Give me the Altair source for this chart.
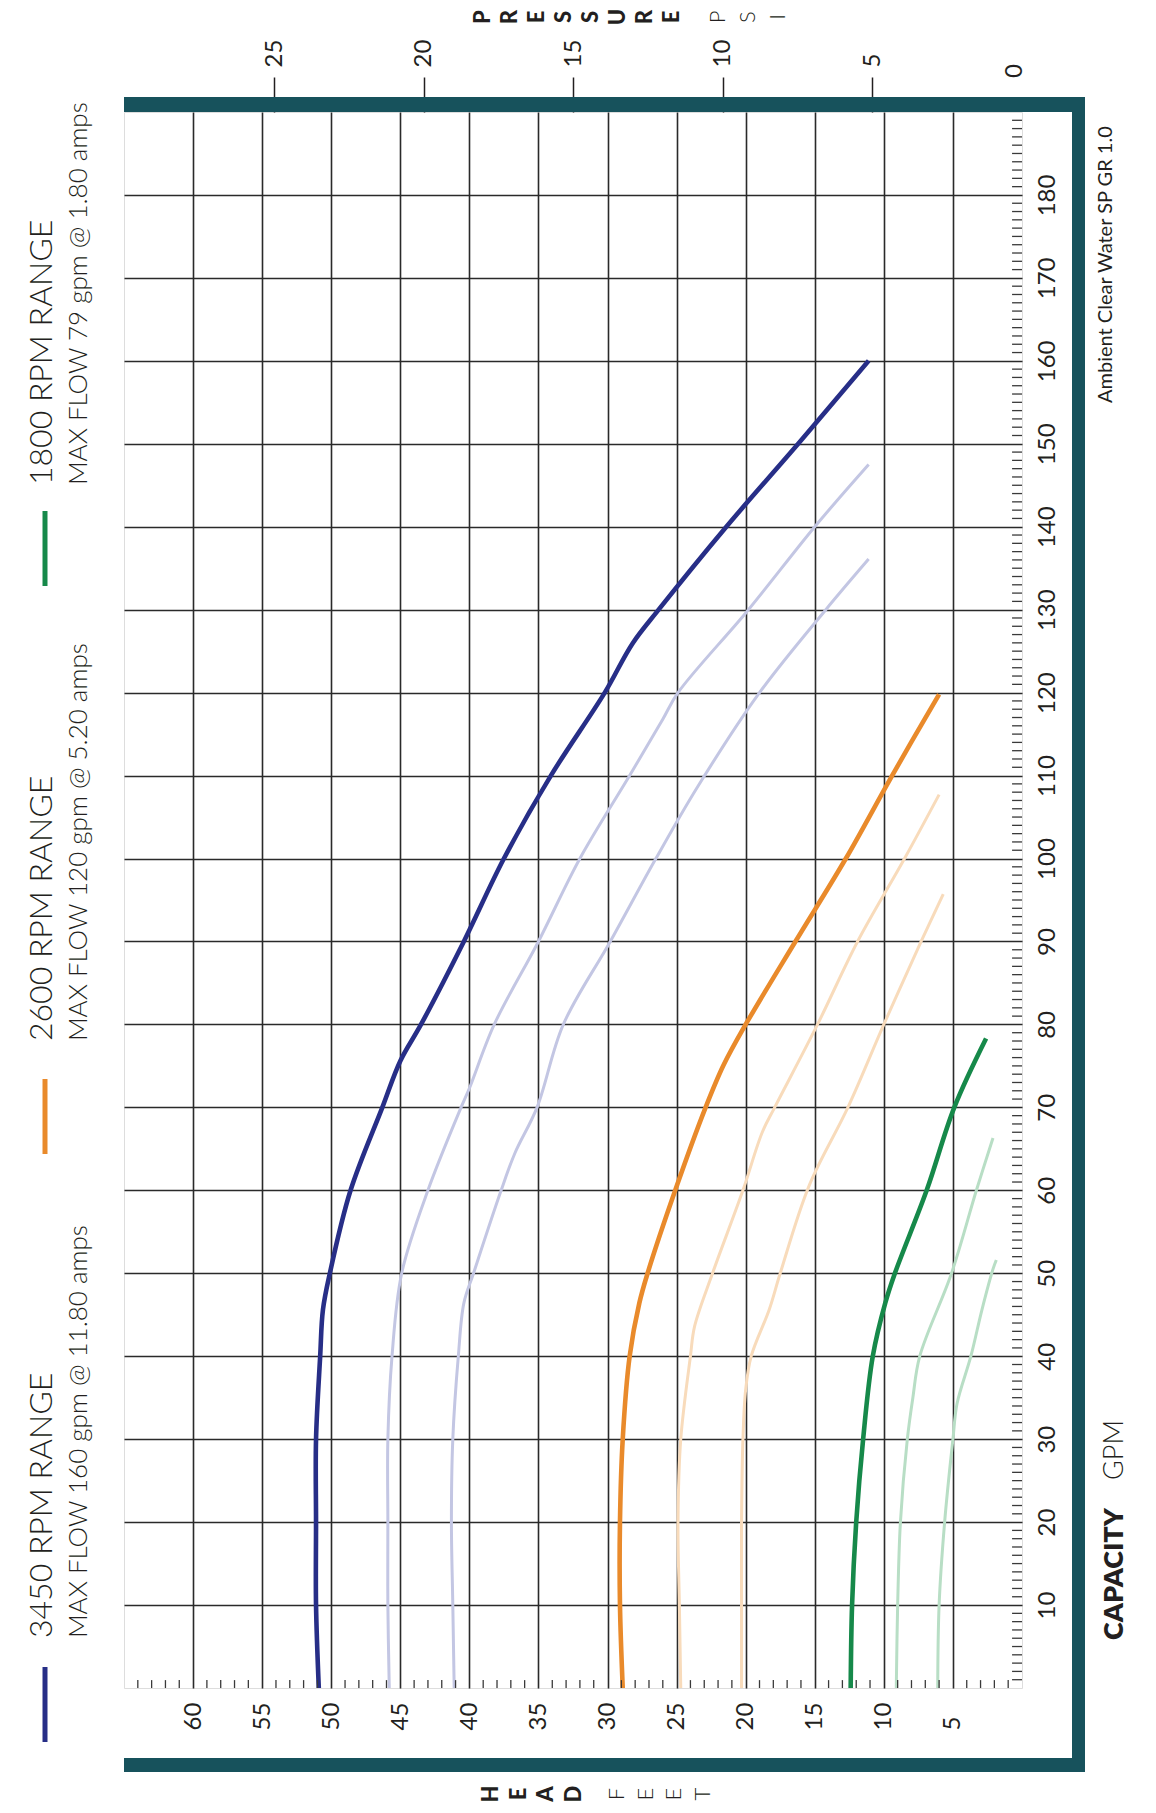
import altair as alt
import pandas as pd

# ---------------- data ----------------
# 3450 RPM family
gpm_3450 = [0, 10, 20, 30, 40, 45.6, 50, 60, 70, 75.6, 80, 90, 100, 110, 120, 125.9, 130, 140, 150, 160]
head_3450 = [50.9, 51.1, 51.1, 51.1, 50.8, 50.6, 50.1, 48.6, 46.3, 45.0, 43.5, 40.4, 37.5, 34.1, 30.2, 28.2, 26.3, 21.4, 16.2, 11.1]
gpm_3450_b = [0, 10, 20, 30, 40, 50, 60, 70, 72.3, 80, 90, 100, 110, 116.8, 120, 130, 140, 147.5]
head_3450_b = [45.8, 45.9, 45.9, 45.9, 45.6, 44.9, 43.0, 40.6, 40.0, 38.2, 35.0, 32.0, 28.4, 26.0, 24.9, 19.8, 15.0, 11.1]
gpm_3450_c = [0, 10, 20, 30, 40, 46.4, 50, 60, 64.5, 70, 80, 90, 100, 108.6, 120, 130, 136.1]
head_3450_c = [41.1, 41.2, 41.3, 41.2, 40.8, 40.4, 39.7, 37.7, 36.7, 35.1, 33.2, 29.8, 26.5, 23.5, 19.0, 14.2, 11.1]
# 2600 RPM family
gpm_2600 = [0, 10, 20, 30, 40, 46.4, 50, 60, 70, 75.1, 80, 90, 100, 110, 119.8]
head_2600 = [28.9, 29.1, 29.1, 28.9, 28.4, 27.7, 27.1, 25.1, 22.9, 21.6, 20.0, 16.4, 12.75, 9.4, 6.0]
gpm_2600_b = [0, 10, 20, 30, 40, 43.6, 50, 60, 67, 70, 80, 90, 100, 107.7]
head_2600_b = [24.7, 24.8, 24.9, 24.7, 24.0, 23.7, 22.4, 20.2, 18.8, 17.9, 14.8, 11.9, 8.5, 6.0]
gpm_2600_c = [0, 10, 20, 30, 36, 40, 45.6, 50, 60.6, 70, 80, 90, 95.7]
head_2600_c = [20.3, 20.3, 20.3, 20.2, 20.0, 19.6, 18.3, 17.5, 15.4, 12.6, 10.0, 7.3, 5.7]
# 1800 RPM family
gpm_1800 = [0, 10, 20, 30, 40, 46.4, 50, 60, 70, 78.3]
head_1800 = [12.4, 12.3, 12.0, 11.5, 10.8, 9.9, 9.2, 6.9, 4.9, 2.6]
gpm_1800_b = [0, 10, 20, 30, 35, 40, 50, 60, 66.3]
head_1800_b = [9.1, 9.0, 8.8, 8.3, 7.9, 7.4, 5.1, 3.3, 2.1]
gpm_1800_c = [0, 10, 20, 30, 34.3, 40, 45.6, 50.5, 51.6]
head_1800_c = [6.1, 6.0, 5.6, 5.0, 4.7, 3.7, 2.9, 2.1, 1.86]

head_labels = [5, 10, 15, 20, 25, 30, 35, 40, 45, 50, 55, 60]
gpm_labels = [10, 20, 30, 40, 50, 60, 70, 80, 90, 100, 110, 120, 130, 140, 150, 160, 170, 180]
psi_labels = [5, 10, 15, 20, 25]
head_minor = [h for h in range(1, 65) if h % 5 != 0]
gpm_minor = [g for g in range(1, 190) if g % 10 != 0]

legend_titles = ["3450 RPM RANGE", "2600 RPM RANGE", "1800 RPM RANGE"]
legend_subs = ["MAX FLOW 160 gpm @ 11.80 amps", "MAX FLOW 120 gpm @ 5.20 amps", "MAX FLOW 79 gpm @ 1.80 amps"]

# ---------------- styling ----------------
NAVY, NAVY_L = "#272e87", "#c3c6e3"
ORANGE, ORANGE_L = "#e98a2b", "#f8dbbb"
GREEN, GREEN_L = "#16894a", "#b8dec5"
TEAL = "#17525c"
INK = "#231f20"
GRID = "#2a2a2a"
FONT = "Lato"

W, H = 898, 1576

series = [
    ("3450b", gpm_3450_b, head_3450_b, "light"), ("3450c", gpm_3450_c, head_3450_c, "light"),
    ("2600b", gpm_2600_b, head_2600_b, "light"), ("2600c", gpm_2600_c, head_2600_c, "light"),
    ("1800b", gpm_1800_b, head_1800_b, "light"), ("1800c", gpm_1800_c, head_1800_c, "light"),
    ("3450", gpm_3450, head_3450, "main"), ("2600", gpm_2600, head_2600, "main"),
    ("1800", gpm_1800, head_1800, "main"),
]
rows = []
for name, gs, hs, kind in series:
    for g, h in zip(gs, hs):
        rows.append({"series": name, "kind": kind, "gpm": g, "head": h})
curves = pd.DataFrame(rows)

color_scale = alt.Scale(
    domain=["3450", "3450b", "3450c", "2600", "2600b", "2600c", "1800", "1800b", "1800c"],
    range=[NAVY, NAVY_L, NAVY_L, ORANGE, ORANGE_L, ORANGE_L, GREEN, GREEN_L, GREEN_L],
)

head_scale = alt.Scale(domain=[0, 65], reverse=True, nice=False, zero=False)
gpm_scale = alt.Scale(domain=[0, 190], nice=False, zero=False)
psi_scale = alt.Scale(domain=[0, 30.03], reverse=True, nice=False, zero=False)

x_axis = alt.Axis(
    orient="bottom", values=head_labels, grid=True, gridColor=GRID, gridWidth=1.6, gridOpacity=1,
    ticks=False, tickSize=0, domain=False, labelAngle=270, labelAlign="left", labelBaseline="middle",
    labelPadding=42, labelFontSize=24, labelFont=FONT, labelColor=INK, labelFlush=False,
    labelOverlap=False, title=None,
)
y_axis = alt.Axis(
    orient="right", values=gpm_labels, grid=True, gridColor=GRID, gridWidth=1.6, gridOpacity=1,
    ticks=False, tickSize=0, domain=False, labelAngle=270, labelAlign="center", labelBaseline="top",
    labelPadding=13, labelFontSize=24, labelFont=FONT, labelColor=INK, labelFlush=False,
    labelOverlap=False, title=None,
)
psi_axis = alt.Axis(
    orient="top", values=psi_labels, grid=False, ticks=True, tickSize=35, tickWidth=1.5,
    tickColor=INK, domain=False, labelAngle=270, labelAlign="left", labelBaseline="middle",
    labelPadding=10, labelFontSize=24, labelFont=FONT, labelColor=INK, labelFlush=False,
    labelOverlap=False, title=None,
)

base = alt.Chart(curves).encode(
    x=alt.X("head:Q", scale=head_scale, axis=x_axis),
    y=alt.Y("gpm:Q", scale=gpm_scale, axis=y_axis),
    color=alt.Color("series:N", scale=color_scale, legend=None),
    detail="series:N",
    order=alt.Order("gpm:Q"),
)
light_lines = base.transform_filter(alt.datum.kind == "light").mark_line(strokeWidth=3, interpolate="catmull-rom")
main_lines = base.transform_filter(alt.datum.kind == "main").mark_line(strokeWidth=4.6, interpolate="catmull-rom")

# minor ticks along the bottom (head) and right (capacity) edges
hm = pd.DataFrame({"head": head_minor, "gpm": [0] * len(head_minor), "gpm2": [0.95] * len(head_minor)})
head_ticks = alt.Chart(hm).mark_rule(color="#3a3a3a", strokeWidth=1.3).encode(
    x=alt.X("head:Q", scale=head_scale), y=alt.Y("gpm:Q", scale=gpm_scale), y2="gpm2:Q"
)
gm = pd.DataFrame({"gpm": gpm_minor, "head": [0] * len(gpm_minor), "head2": [0.72] * len(gpm_minor)})
gpm_ticks = alt.Chart(gm).mark_rule(color="#3a3a3a", strokeWidth=1.3).encode(
    y=alt.Y("gpm:Q", scale=gpm_scale), x=alt.X("head:Q", scale=head_scale), x2="head2:Q"
)

one = pd.DataFrame({"k": [0]})

def rect(x1, x2, y1, y2):
    return alt.Chart(one).mark_rect(color=TEAL).encode(
        x=alt.value(x1), x2=alt.value(x2), y=alt.value(y1), y2=alt.value(y2)
    )

frame = [rect(0, 961, -15, 0), rect(948, 961, -15, 1660), rect(0, 961, 1646, 1660)]

def txt(s, x, y, size, weight=400, align="left", baseline="alphabetic", line_height=None):
    kw = dict(angle=270, align=align, baseline=baseline, font=FONT, fontSize=size,
              fontWeight=weight, color=INK)
    if line_height is not None:
        kw["lineHeight"] = line_height
    return alt.Chart(one).mark_text(text=s, **kw).encode(x=alt.value(x), y=alt.value(y))

def bar(x, y1, y2, color):
    return alt.Chart(one).mark_rule(color=color, strokeWidth=5).encode(
        x=alt.value(x), y=alt.value(y1), y2=alt.value(y2)
    )

legend = [
    bar(-79, 1555, 1630, NAVY), txt(legend_titles[0], -72, 1526, 32, 300), txt(legend_subs[0], -37, 1526, 26, 300),
    bar(-79, 967, 1042, ORANGE), txt(legend_titles[1], -72, 929, 32, 300), txt(legend_subs[1], -37, 929, 26, 300),
    bar(-79, 399, 474, GREEN), txt(legend_titles[2], -72, 373, 32, 300), txt(legend_subs[2], -37, 373, 26, 300),
]

annotations = [
    txt(list("PRESSURE"), 349, -95, 22, 900, align="center", baseline="top", line_height=27),
    txt(list("PSI"), 584, -95, 22, 300, align="center", baseline="top", line_height=30),
    txt(list("HEAD"), 357, 1682, 22, 900, align="center", baseline="top", line_height=27.5),
    txt(list("FEET"), 483, 1682, 22, 300, align="center", baseline="top", line_height=28.5),
    txt("CAPACITY", 999, 1528, 27, 800),
    txt("GPM", 999, 1368, 27, 300),
    txt("Ambient Clear Water SP GR 1.0", 988, 291, 20, 400),
]

inner = alt.layer(light_lines, main_lines, head_ticks, gpm_ticks, *frame, *legend, *annotations)

psi_layer = alt.Chart(pd.DataFrame({"psi": [0], "lbl": ["0"]})).mark_text(
    angle=270, align="left", baseline="alphabetic", font=FONT, fontSize=24, color=INK
).encode(
    x=alt.X("psi:Q", scale=psi_scale, axis=psi_axis),
    y=alt.value(-34),
    text="lbl:N",
)

chart = alt.layer(inner, psi_layer).resolve_scale(x="independent").properties(
    width=W, height=H,
    autosize=alt.AutoSizeParams(type="none"),
    padding={"left": 116, "top": 104, "right": 126, "bottom": 117},
).configure_view(stroke=INK, strokeWidth=2).configure(font=FONT)

chart.save("out.html", embed_options={"renderer": "svg", "actions": False})
